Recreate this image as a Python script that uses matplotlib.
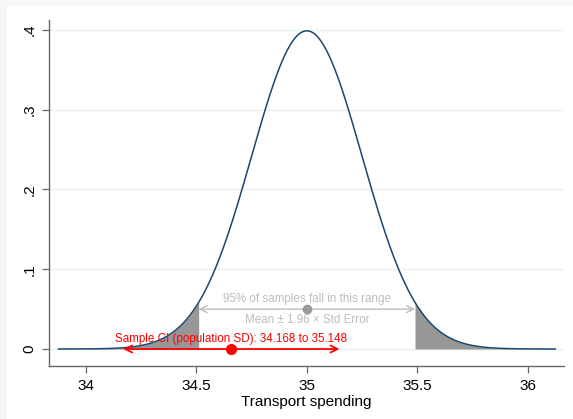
import numpy as np
import matplotlib
matplotlib.use("Agg")
import matplotlib.pyplot as plt

plt.rcParams['font.family'] = ['Liberation Sans', 'DejaVu Sans']

# sampling distribution of the mean
pop_mean = 35.0
std_err = 0.25
z_crit = 1.96
curve_span = 4.5  # in std errors either side

# one sample's CI (population SD)
sample_mean = 34.658
ci_low = 34.168
ci_high = 35.148

x_ticks = [34, 34.5, 35, 35.5, 36]
x_labels = ['34', '34.5', '35', '35.5', '36']
y_ticks = [0, 0.1, 0.2, 0.3, 0.4]
y_labels = ['0', '.1', '.2', '.3', '.4']

band_y = 0.05
navy = '#1a476f'
light = '#bdbdbd'

lo = pop_mean - z_crit * std_err
hi = pop_mean + z_crit * std_err

x = np.linspace(pop_mean - curve_span * std_err, pop_mean + curve_span * std_err, 600)
z = (x - pop_mean) / std_err
dens = np.exp(-0.5 * z ** 2) / np.sqrt(2 * np.pi)
edge_h = np.exp(-0.5 * z_crit ** 2) / np.sqrt(2 * np.pi)

fig = plt.figure(figsize=(5.73, 4.19), dpi=100, facecolor='#f7f7f7')
# white inner region
bg = fig.add_axes([7 / 573, 0, 1 - 7 / 573, 413 / 419])
bg.set_axis_off()
bg.add_patch(plt.Rectangle((0, 0), 1, 1, transform=bg.transAxes, color='white', lw=0))

ax = fig.add_axes([49 / 573, 53 / 419, 515 / 573, 346 / 419])
ax.set_zorder(2)
ax.set_facecolor('white')

# grid
for yt in y_ticks:
    ax.axhline(yt, color='#e8f0f1', lw=1.0, zorder=0)

# shaded tails
left = x <= lo
right = x >= hi
xl = np.append(x[left], lo)
yl = np.append(dens[left], edge_h)
xr = np.insert(x[right], 0, hi)
yr = np.insert(dens[right], 0, edge_h)
ax.fill_between(xl, 0, yl, color='#979797', lw=0, zorder=1)
ax.fill_between(xr, 0, yr, color='#979797', lw=0, zorder=1)

ax.plot(x, dens, color=navy, lw=1.1, zorder=3)

# 95% range
ax.annotate('', xy=(lo, band_y), xytext=(hi, band_y),
            arrowprops=dict(arrowstyle='<->,head_length=0.5,head_width=0.25', color=light, lw=1.0,
                            shrinkA=0, shrinkB=0), zorder=2)
ax.plot([pop_mean], [band_y], 'o', color='#999999', ms=6, zorder=4)
ax.text(pop_mean, 0.0627, '95% of samples fall in this range', color=light,
        fontsize=8.4, ha='center', va='center')
ax.text(pop_mean, 0.0364, 'Mean \u00b1 1.96 \u00d7 Std Error', color=light,
        fontsize=8.4, ha='center', va='center')

# sample CI
ax.annotate('', xy=(ci_low, 0), xytext=(ci_high, 0),
            arrowprops=dict(arrowstyle='<->,head_length=0.5,head_width=0.25', color='red', lw=1.3,
                            shrinkA=0, shrinkB=0), zorder=4)
ax.plot([sample_mean], [0], 'o', color='red', ms=7, zorder=5)
ax.text(sample_mean, 0.0125, f'Sample CI (population SD): {ci_low:.3f} to {ci_high:.3f}',
        color='red', fontsize=8.4, ha='center', va='center')

ax.set_xlim(33.832, 36.165)
ax.set_ylim(-0.0213, 0.4125)
ax.set_xticks(x_ticks)
ax.set_xticklabels(x_labels, fontsize=11)
ax.set_yticks(y_ticks)
ax.set_yticklabels(y_labels, fontsize=11, rotation=90, va='center')
ax.set_xlabel('Transport spending', fontsize=11, labelpad=2)

for s in ['top', 'right']:
    ax.spines[s].set_visible(False)
for s in ['left', 'bottom']:
    ax.spines[s].set_color('#666666')
    ax.spines[s].set_linewidth(1.0)
ax.tick_params(axis='both', color='#666666', length=5, width=0.9, pad=4)

fig.savefig('out.png', dpi=100, facecolor=fig.get_facecolor())
